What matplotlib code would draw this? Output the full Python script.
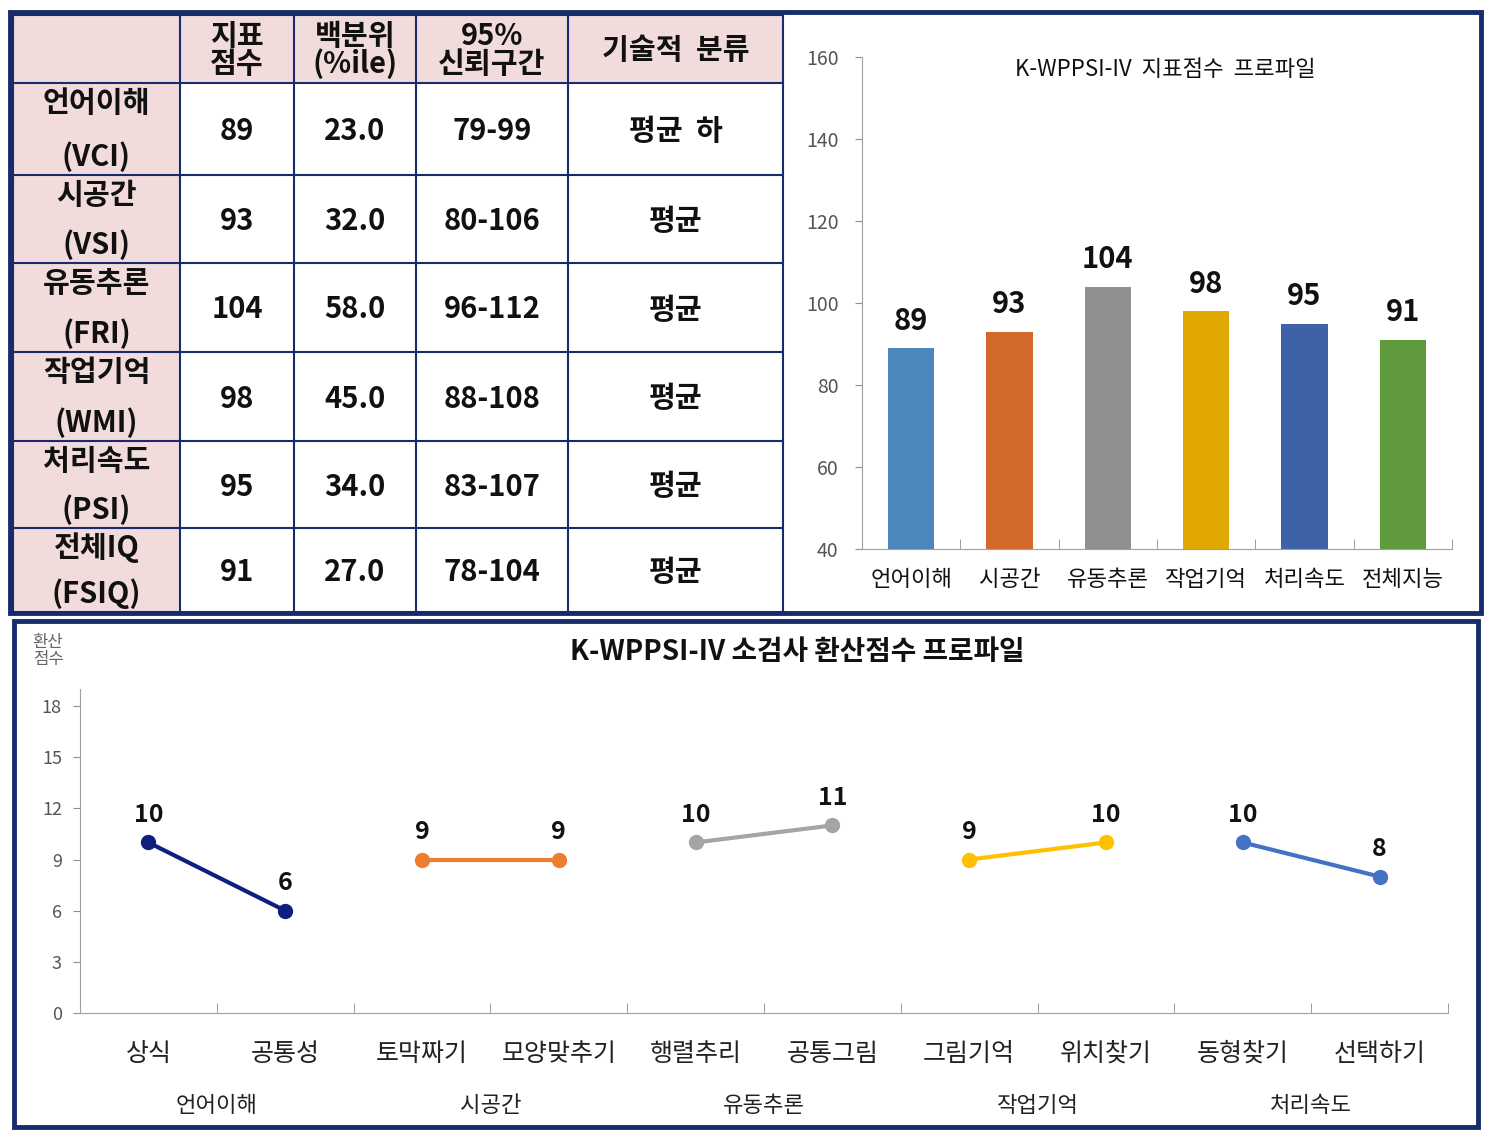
import matplotlib.pyplot as plt
from matplotlib.patches import Rectangle
from matplotlib.transforms import blended_transform_factory

plt.rcParams['font.family'] = ['Noto Sans CJK KR', 'DejaVu Sans']

# ---- data ----
col_headers = ["지표\n점수", "백분위\n(%ile)", "95%\n신뢰구간", "기술적  분류"]
index_names = ["언어이해", "시공간", "유동추론", "작업기억", "처리속도", "전체IQ"]
index_abbr = ["(VCI)", "(VSI)", "(FRI)", "(WMI)", "(PSI)", "(FSIQ)"]
index_scores = [89, 93, 104, 98, 95, 91]
percentiles = ["23.0", "32.0", "58.0", "45.0", "34.0", "27.0"]
conf_int = ["79-99", "80-106", "96-112", "88-108", "83-107", "78-104"]
classes = ["평균  하", "평균", "평균", "평균", "평균", "평균"]

bar_labels = ["언어이해", "시공간", "유동추론", "작업기억", "처리속도", "전체지능"]
bar_colors = ["#4e86be", "#d2692a", "#8f8f8f", "#e0a800", "#3d62a8", "#5f9a3e"]

subtests = ["상식", "공통성", "토막짜기", "모양맞추기", "행렬추리",
            "공통그림", "그림기억", "위치찾기", "동형찾기", "선택하기"]
subtest_scores = [10, 6, 9, 9, 10, 11, 9, 10, 10, 8]
groups = ["언어이해", "시공간", "유동추론", "작업기억", "처리속도"]
group_colors = ["#0f1f80", "#ed7d31", "#a5a5a5", "#ffc000", "#4472c4"]

NAVY = "#172c6b"
PINK = "#f2dcdb"
W, H = 1489, 1133

fig = plt.figure(figsize=(W / 100, H / 100), dpi=100)

# overlay axes in pixel coordinates for table and frames
ov = fig.add_axes([0, 0, 1, 1])
ov.set_xlim(0, W)
ov.set_ylim(H, 0)
ov.axis("off")

# frames
ov.add_patch(Rectangle((10, 12), 1471, 601, fill=False, ec=NAVY, lw=3.5, zorder=5))
ov.add_patch(Rectangle((14, 621), 1464, 506, fill=False, ec=NAVY, lw=3.5, zorder=5))

# table
col_x = [13, 180, 294, 416, 568, 783]
row_y = [15, 83, 175, 263, 352, 441, 528, 612]
ov.add_patch(Rectangle((col_x[0], row_y[0]), col_x[-1] - col_x[0], row_y[1] - row_y[0],
                       fc=PINK, ec="none"))
ov.add_patch(Rectangle((col_x[0], row_y[1]), col_x[1] - col_x[0], row_y[-1] - row_y[1],
                       fc=PINK, ec="none"))
for x in col_x:
    ov.plot([x, x], [row_y[0], row_y[-1]], color=NAVY, lw=1.5)
for y in row_y:
    ov.plot([col_x[0], col_x[-1]], [y, y], color=NAVY, lw=1.5)

txt = dict(ha="center", va="center", fontsize=21, fontweight="bold", color="#111111")
for j, h in enumerate(col_headers):
    cx = (col_x[j + 1] + col_x[j + 2]) / 2
    ov.text(cx, (row_y[0] + row_y[1]) / 2 + 1, h, linespacing=0.92, **txt)

for i in range(len(index_names)):
    top, bot = row_y[i + 1], row_y[i + 2]
    cy = (top + bot) / 2
    cx0 = (col_x[0] + col_x[1]) / 2
    ov.text(cx0, top + 20, index_names[i], **txt)
    ov.text(cx0, bot - 18, index_abbr[i], **txt)
    vals = [str(index_scores[i]), percentiles[i], conf_int[i], classes[i]]
    for j, v in enumerate(vals):
        ov.text((col_x[j + 1] + col_x[j + 2]) / 2, cy + 2, v, **txt)

# ---- bar chart ----
ax1 = fig.add_axes([862 / W, 1 - 549 / H, 590 / W, (549 - 57) / H])
xs = range(len(index_scores))
ax1.bar(xs, [s - 40 for s in index_scores], bottom=40, width=0.47, color=bar_colors)
for x, s in zip(xs, index_scores):
    ax1.annotate(str(s), (x, s), xytext=(0, 9), textcoords="offset points",
                 ha="center", va="bottom", fontsize=21, fontweight="bold", color="#111111")
ax1.set_ylim(40, 160)
ax1.set_xlim(-0.5, len(index_scores) - 0.5)
ax1.set_yticks(range(40, 161, 20))
ax1.set_xticks(list(xs))
ax1.set_xticklabels(bar_labels, fontsize=16, fontweight="medium", color="#111111")
ax1.set_xticks([x - 0.5 for x in range(len(index_scores) + 1)], minor=True)
ax1.tick_params(axis="x", which="major", length=0, pad=14)
ax1.tick_params(axis="x", which="minor", direction="in", length=7, color="#909090")
ax1.tick_params(axis="y", length=5, color="#909090", labelcolor="#555555", labelsize=14, pad=12)
for s in ["top", "right"]:
    ax1.spines[s].set_visible(False)
for s in ["left", "bottom"]:
    ax1.spines[s].set_color("#a0a0a0")
ax1.text(0.514, 0.975, "K-WPPSI-IV  지표점수  프로파일", transform=ax1.transAxes,
         ha="center", va="center", fontsize=16, fontweight="medium", color="#111111")

# ---- line chart ----
ax2 = fig.add_axes([80 / W, 1 - 1013 / H, 1368 / W, (1013 - 689) / H])
for g in range(len(groups)):
    gx = [2 * g, 2 * g + 1]
    gy = subtest_scores[2 * g:2 * g + 2]
    ax2.plot(gx, gy, color=group_colors[g], lw=3, marker="o", ms=10)
    for x, y in zip(gx, gy):
        ax2.annotate(str(y), (x, y), xytext=(0, 11), textcoords="offset points",
                     ha="center", va="bottom", fontsize=18, fontweight="bold", color="#111111")
ax2.set_ylim(0, 19)
ax2.set_xlim(-0.5, len(subtests) - 0.5)
ax2.set_yticks(range(0, 19, 3))
ax2.set_xticks(range(len(subtests)))
ax2.set_xticklabels(subtests, fontsize=18, fontweight="medium", color="#222222")
ax2.set_xticks([x - 0.5 for x in range(len(subtests) + 1)], minor=True)
ax2.tick_params(axis="x", which="major", length=0, pad=20)
ax2.tick_params(axis="x", which="minor", direction="in", length=7, color="#909090")
ax2.tick_params(axis="y", length=5, color="#909090", labelcolor="#555555", labelsize=13, pad=8)
for s in ["top", "right"]:
    ax2.spines[s].set_visible(False)
for s in ["left", "bottom"]:
    ax2.spines[s].set_color("#a0a0a0")

trans = blended_transform_factory(ax2.transData, ax2.transAxes)
for g, name in enumerate(groups):
    ax2.text(2 * g + 0.5, -92 / 324, name, transform=trans, ha="center", va="center",
             fontsize=16, fontweight="medium", color="#222222")

ov.text(797, 652, "K-WPPSI-IV 소검사 환산점수 프로파일", ha="center", va="center",
        fontsize=20, fontweight="bold", color="#111111")
ov.text(48, 651, "환산\n점수", ha="center", va="center", fontsize=12,
        color="#666666", linespacing=1.0)

fig.savefig("out.png", dpi=100)
